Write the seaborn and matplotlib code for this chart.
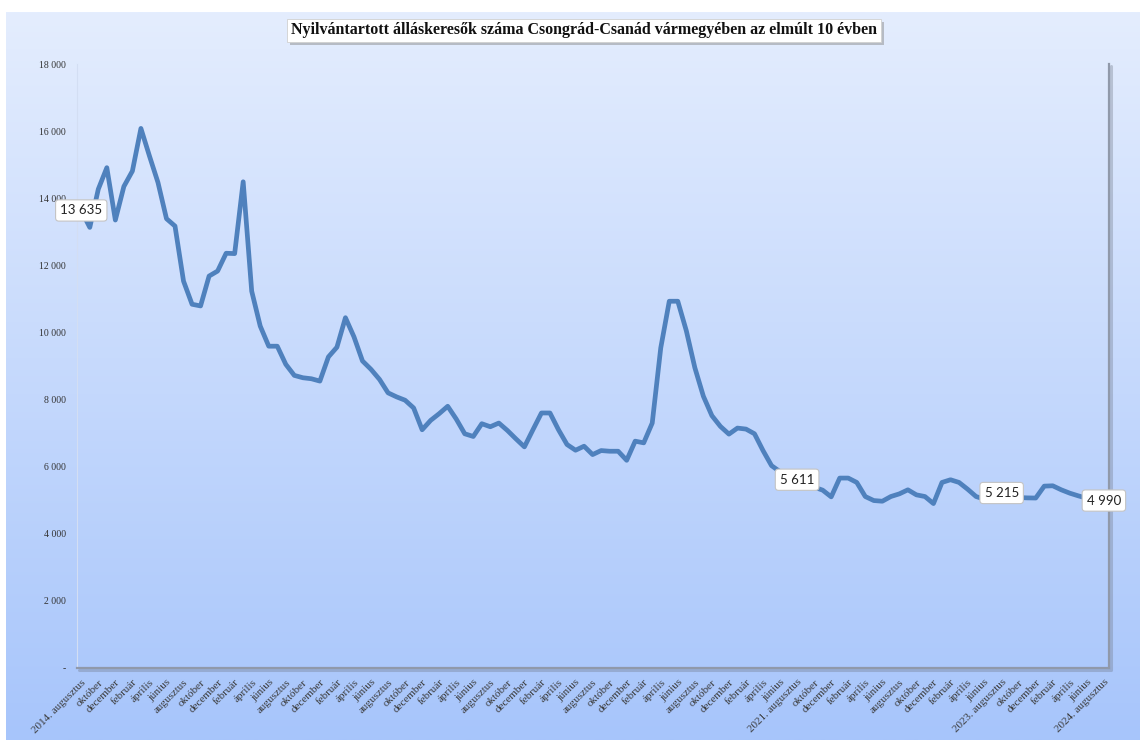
import numpy as np
import matplotlib
import seaborn as sns
from matplotlib import transforms
from matplotlib.patches import Rectangle

matplotlib.use('Agg')
import matplotlib.pyplot as plt

# monthly values, 2014 August .. 2024 August
values = [
    13635, 13130, 14270, 14910, 13350, 14350, 14810, 16080, 15260, 14470,
    13390, 13170, 11530, 10840, 10790, 11680, 11830, 12360, 12350, 14490,
    11230, 10190, 9590, 9590, 9050, 8720, 8650, 8620, 8550, 9270,
    9560, 10440, 9870, 9150, 8900, 8600, 8200, 8080, 7980, 7750,
    7100, 7380, 7580, 7800, 7420, 6980, 6900, 7280, 7190, 7300,
    7080, 6830, 6590, 7100, 7600, 7600, 7100, 6660, 6490, 6610,
    6360, 6480, 6460, 6460, 6190, 6760, 6710, 7300, 9540, 10930,
    10930, 10050, 8950, 8100, 7520, 7200, 6970, 7150, 7120, 6980,
    6480, 6030, 5850, 5700, 5611, 5480, 5390, 5300, 5100, 5660,
    5660, 5530, 5110, 4990, 4970, 5110, 5190, 5310, 5160, 5110,
    4900, 5530, 5610, 5530, 5330, 5110, 5030, 5100, 5215, 5120,
    5080, 5070, 5065, 5420, 5430, 5310, 5210, 5130, 5060, 5020,
    4990,
]
months = ['augusztus', 'október', 'december', 'február', 'április', 'június']
year_marks = {0: '2014', 84: '2021', 108: '2023', 120: '2024'}
labelled_points = [0, 84, 108, 120]
y_ticks = [0, 2000, 4000, 6000, 8000, 10000, 12000, 14000, 16000, 18000]
title = 'Nyilvántartott álláskeresők száma Csongrád-Csanád vármegyében az elmúlt 10 évben'

idx = np.arange(len(values))
tick_pos = list(range(0, len(values), 2))
tick_labels = []
for k, p in enumerate(tick_pos):
    name = months[k % len(months)]
    if p in year_marks:
        name = f'{year_marks[p]}. {name}'
    tick_labels.append(name)

sns.set_theme(style='white')
plt.rcParams['font.family'] = ['Liberation Serif', 'DejaVu Serif']

W, H = 1140, 740
fig = plt.figure(figsize=(W / 100, H / 100), dpi=100)
fig.patch.set_facecolor('white')

# gradient background of the chart area
bg = fig.add_axes([6 / W, 0, 1 - 6 / W, (H - 12) / H])
grad = np.linspace(0, 1, 256).reshape(-1, 1)
top = np.array(matplotlib.colors.to_rgb('#e4edfe'))
bot = np.array(matplotlib.colors.to_rgb('#a7c5fb'))
img = top + grad[..., None] * (bot - top)
bg.imshow(img, aspect='auto', extent=[0, 1, 0, 1])
bg.set_axis_off()

L, R, B, T = 77, 1109, 668, 64
ax = fig.add_axes([L / W, (H - B) / H, (R - L) / W, (B - T) / H])
ax.patch.set_alpha(0)

sns.lineplot(x=idx, y=values, ax=ax, color='#4f81bd', linewidth=3.4,
             solid_joinstyle='round', solid_capstyle='round')

ax.set_xlim(-0.5, len(values) - 1 + (R - 1103.9) / 8.52)
ax.set_ylim(0, 18000)
ax.set_xlabel('')
ax.set_ylabel('')

ax.set_yticks(y_ticks)
ax.set_yticklabels(['-' if v == 0 else f'{v:,}'.replace(',', ' ') for v in y_ticks],
                   fontsize=7, color='#333333')
ax.set_xticks(tick_pos)
ax.set_xticklabels(tick_labels, rotation=45, ha='right', va='top',
                   rotation_mode='anchor', fontsize=8, color='#3a3a3a')
ax.tick_params(axis='y', length=0, pad=8)
ax.tick_params(axis='x', length=0, pad=7)

ax.spines['top'].set_visible(False)
ax.spines['left'].set_color('#d3def3')
ax.spines['left'].set_linewidth(0.8)
for side in ['right', 'bottom']:
    ax.spines[side].set_color('#9099aa')
    ax.spines[side].set_linewidth(1.6)

# soft shadow under the bottom / right border
sh = transforms.offset_copy(ax.transAxes, fig=fig, x=2, y=-2, units='dots')
ax.plot([0, 1, 1], [0, 0, 1], transform=sh, color='#6f7787', alpha=0.35,
        linewidth=2.2, clip_on=False)

# data labels
for i in labelled_points:
    ax.text(i, values[i], f'{values[i]:,}'.replace(',', ' '), ha='center', va='center',
            fontsize=9.5, family=['Lato', 'DejaVu Sans'], color='#222222', zorder=5,
            bbox=dict(boxstyle='round,pad=0.35,rounding_size=0.25', fc='white',
                      ec='#c4c4c4', lw=0.8))

# title in a white box with a drop shadow
tx, ty = 584 / W, 1 - 30.5 / H
t = fig.text(tx, ty, title, ha='center', va='center', fontsize=11.5, fontweight='bold',
             color='#111111', zorder=3,
             bbox=dict(boxstyle='square,pad=0.25', fc='white', ec='#d0d0d0', lw=0.6))
fig.canvas.draw()
bb = t.get_bbox_patch().get_window_extent()
fig.patches.append(Rectangle((bb.x0 + 3, bb.y0 - 3), bb.width, bb.height,
                             transform=None, fc='#8c8c8c', ec='none', alpha=0.5,
                             zorder=2, figure=fig))

plt.savefig('out.png', dpi=100)
plt.close()
